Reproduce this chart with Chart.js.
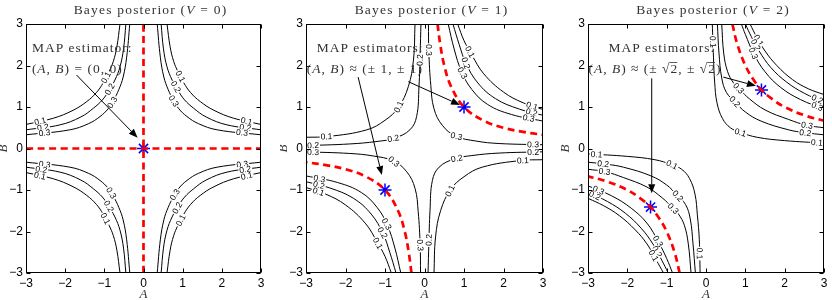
<!DOCTYPE html>
<html>
<head>
<meta charset="utf-8">
<script src="https://cdn.jsdelivr.net/npm/chart.js@4.4.1/dist/chart.umd.min.js"></script>
<style>
  html, body { margin: 0; padding: 0; background: #fff; }
  #wrap { position: relative; width: 832px; height: 300px; overflow: hidden; }
  canvas { position: absolute; top: 0; }
</style>
</head>
<body>
<div id="wrap">
  <canvas id="p0" width="280" height="300" style="left:0px"></canvas>
  <canvas id="p1" width="276" height="300" style="left:280px"></canvas>
  <canvas id="p2" width="276" height="300" style="left:556px"></canvas>
</div>
<script>
// ---- data (A on x, B on y) ----
const axisTicks = [-3, -2, -1, 0, 1, 2, 3];
const panelTitles = ["0", "1", "2"];

// V = 0 : contour level, then points
const v0Lines = [
  ["0.1", [[-3,0.58],[-2.3,0.73],[-1.8,0.92],[-1.45,1.13],[-1.2,1.35],[-1.03,1.58],[-0.88,1.85],[-0.77,2.1],[-0.68,2.45],[-0.6,3]]],
  ["0.2", [[-3,0.45],[-2.13,0.57],[-1.6,0.76],[-1.28,0.97],[-1.05,1.17],[-0.9,1.37],[-0.73,1.65],[-0.6,1.97],[-0.51,2.4],[-0.45,3]]],
  ["0.3", [[-3,0.33],[-1.88,0.45],[-1.4,0.6],[-1.11,0.77],[-0.9,0.96],[-0.77,1.15],[-0.63,1.42],[-0.52,1.72],[-0.43,2.2],[-0.35,3]]],
  ["0.1", [[3,0.58],[2.3,0.73],[1.8,0.92],[1.45,1.13],[1.2,1.35],[1.03,1.58],[0.88,1.85],[0.77,2.1],[0.68,2.45],[0.6,3]]],
  ["0.2", [[3,0.45],[2.13,0.57],[1.6,0.76],[1.28,0.97],[1.05,1.17],[0.9,1.37],[0.73,1.65],[0.6,1.97],[0.51,2.4],[0.45,3]]],
  ["0.3", [[3,0.33],[1.88,0.45],[1.4,0.6],[1.11,0.77],[0.9,0.96],[0.77,1.15],[0.63,1.42],[0.52,1.72],[0.43,2.2],[0.35,3]]],
  ["0.1", [[-3,-0.58],[-2.3,-0.73],[-1.8,-0.92],[-1.45,-1.13],[-1.2,-1.35],[-1.03,-1.58],[-0.88,-1.85],[-0.77,-2.1],[-0.68,-2.45],[-0.6,-3]]],
  ["0.2", [[-3,-0.45],[-2.13,-0.57],[-1.6,-0.76],[-1.28,-0.97],[-1.05,-1.17],[-0.9,-1.37],[-0.73,-1.65],[-0.6,-1.97],[-0.51,-2.4],[-0.45,-3]]],
  ["0.3", [[-3,-0.33],[-1.88,-0.45],[-1.4,-0.6],[-1.11,-0.77],[-0.9,-0.96],[-0.77,-1.15],[-0.63,-1.42],[-0.52,-1.72],[-0.43,-2.2],[-0.35,-3]]],
  ["0.1", [[3,-0.58],[2.3,-0.73],[1.8,-0.92],[1.45,-1.13],[1.2,-1.35],[1.03,-1.58],[0.88,-1.85],[0.77,-2.1],[0.68,-2.45],[0.6,-3]]],
  ["0.2", [[3,-0.45],[2.13,-0.57],[1.6,-0.76],[1.28,-0.97],[1.05,-1.17],[0.9,-1.37],[0.73,-1.65],[0.6,-1.97],[0.51,-2.4],[0.45,-3]]],
  ["0.3", [[3,-0.33],[1.88,-0.45],[1.4,-0.6],[1.11,-0.77],[0.9,-0.96],[0.77,-1.15],[0.63,-1.42],[0.52,-1.72],[0.43,-2.2],[0.35,-3]]]
];
const v0Ridge = [[[-3,0],[3,0]], [[0,-3],[0,3]]];
const v0Map = [[0,0]];
const v0Spots = [[0,-2.64,0.67],[1,-2.56,0.47],[2,-2.52,0.31],[0,-0.98,1.72],[1,-0.86,1.43],[2,-0.73,1.07],
  [3,0.93,1.73],[4,0.76,1.45],[5,0.68,1.09],[3,2.63,0.65],[4,2.59,0.47],[5,2.51,0.33],
  [8,-2.51,-0.29],[7,-2.6,-0.45],[6,-2.64,-0.64],[8,-0.77,-1.04],[7,-0.9,-1.4],[6,-1.03,-1.72],
  [11,0.68,-1.04],[10,0.8,-1.4],[9,0.93,-1.72],[11,2.51,-0.29],[10,2.59,-0.45],[9,2.63,-0.64]];

// V = 1
const v1Lines = [
  ["0.3", [[0.6,3],[0.75,2.4],[0.94,1.85],[1.2,1.42],[1.6,1.06],[2.2,0.82],[3,0.66]]],
  ["0.2", [[0.72,3],[0.88,2.5],[1.05,2.05],[1.35,1.58],[1.8,1.2],[2.4,0.95],[3,0.8]]],
  ["0.1", [[0.84,3],[1.0,2.6],[1.2,2.25],[1.5,1.8],[2.0,1.36],[2.5,1.1],[3,0.94]]],
  ["0.3", [[-3,-0.66],[-2.2,-0.82],[-1.6,-1.06],[-1.2,-1.42],[-0.94,-1.85],[-0.75,-2.4],[-0.6,-3]]],
  ["0.2", [[-3,-0.8],[-2.4,-0.95],[-1.8,-1.2],[-1.35,-1.58],[-1.05,-2.05],[-0.88,-2.5],[-0.72,-3]]],
  ["0.1", [[-3,-0.94],[-2.5,-1.1],[-2.0,-1.36],[-1.5,-1.8],[-1.2,-2.25],[-1.0,-2.6],[-0.84,-3]]],
  ["0.3", [[0.1,3],[0.11,2.33],[0.16,1.52],[0.24,0.96],[0.45,0.56],[0.79,0.3],[1.3,0.18],[1.89,0.12],[3,0.09]]],
  ["0.3", [[-3,-0.08],[-1.89,-0.12],[-1.3,-0.18],[-0.79,-0.3],[-0.45,-0.56],[-0.24,-0.96],[-0.16,-1.52],[-0.11,-2.33],[-0.1,-3]]],
  ["0.1", [[-3,0.27],[-2.43,0.29],[-1.46,0.45],[-1.0,0.68],[-0.66,0.99],[-0.41,1.49],[-0.28,2.13],[-0.24,3]]],
  ["0.2", [[-3,0.07],[-1.89,0.11],[-1.2,0.17],[-0.76,0.25],[-0.37,0.45],[-0.2,0.77],[-0.14,1.49],[-0.11,2.3],[-0.09,3]]],
  ["0.1", [[0.24,-3],[0.28,-2.13],[0.41,-1.49],[0.66,-0.99],[1.0,-0.68],[1.46,-0.45],[2.43,-0.29],[3,-0.27]]],
  ["0.2", [[0.09,-3],[0.11,-2.3],[0.14,-1.49],[0.2,-0.77],[0.37,-0.45],[0.76,-0.25],[1.2,-0.17],[1.89,-0.11],[3,-0.08]]]
];
const v1Ridge = [
  [[0.33,3],[0.4,2.5],[0.5,2],[0.67,1.5],[1,1],[1.5,0.67],[2,0.5],[2.5,0.4],[3,0.33]],
  [[-0.33,-3],[-0.4,-2.5],[-0.5,-2],[-0.67,-1.5],[-1,-1],[-1.5,-0.67],[-2,-0.5],[-2.5,-0.4],[-3,-0.33]]
];
const v1Map = [[1,1],[-1,-1]];
const v1Spots = [[8,-2.48,0.28],[8,-0.66,1.01],[9,-2.82,0.07],[9,-0.79,0.25],[7,-2.82,-0.08],[7,-0.79,-0.33],
  [9,-0.07,2.13],[6,0.08,2.37],
  [2,1.15,2.33],[1,1.03,2.05],[0,0.94,1.81],[2,2.71,0.99],[1,2.71,0.86],[0,2.63,0.71],
  [6,0.82,0.33],[6,2.75,0.11],[11,2.75,-0.08],[10,2.49,-0.28],[11,0.82,-0.24],[10,0.69,-1.04],
  [3,-2.65,-0.68],[4,-2.65,-0.8],[5,-2.65,-0.94],[3,-1.0,-1.84],[4,-1.08,-2.04],[5,-1.17,-2.28],
  [7,-0.11,-2.33],[11,0.06,-2.2]];

// V = 2
const v2Lines = [
  ["0.3", [[0.9,3],[1.0,2.75],[1.21,2.29],[1.5,1.85],[1.9,1.47],[2.4,1.18],[3,0.95]]],
  ["0.2", [[1.0,3],[1.15,2.7],[1.35,2.35],[1.65,1.95],[2.05,1.6],[2.5,1.33],[3,1.12]]],
  ["0.1", [[1.12,3],[1.28,2.7],[1.5,2.35],[1.8,2.0],[2.2,1.66],[2.6,1.44],[3,1.3]]],
  ["0.3", [[0.4,3],[0.45,2.3],[0.55,1.85],[0.7,1.58],[0.86,1.42],[1.1,1.2],[1.5,0.93],[2.1,0.7],[2.56,0.56],[3,0.5]]],
  ["0.2", [[0.29,3],[0.33,2.3],[0.4,1.7],[0.52,1.35],[0.74,1.12],[1.0,0.88],[1.4,0.66],[2.1,0.45],[2.52,0.38],[3,0.33]]],
  ["0.1", [[0.16,3],[0.19,2.2],[0.22,1.6],[0.28,1.1],[0.42,0.72],[0.62,0.5],[0.87,0.39],[1.3,0.27],[2,0.19],[3,0.13]]],
  ["0.3", [[-3,-0.9],[-2.4,-1.14],[-1.9,-1.44],[-1.5,-1.8],[-1.21,-2.25],[-1.0,-2.65],[-0.85,-3]]],
  ["0.2", [[-3,-1.05],[-2.5,-1.28],[-2.05,-1.56],[-1.65,-1.92],[-1.35,-2.3],[-1.12,-2.7],[-0.96,-3]]],
  ["0.1", [[-3,-1.2],[-2.6,-1.38],[-2.2,-1.62],[-1.8,-1.96],[-1.5,-2.3],[-1.27,-2.68],[-1.08,-3]]],
  ["0.3", [[-3,-0.5],[-2.56,-0.56],[-2.1,-0.7],[-1.5,-0.93],[-1.1,-1.2],[-0.86,-1.42],[-0.7,-1.58],[-0.55,-1.85],[-0.45,-2.3],[-0.38,-3]]],
  ["0.2", [[-3,-0.33],[-2.52,-0.38],[-2.1,-0.45],[-1.4,-0.66],[-1.0,-0.88],[-0.74,-1.12],[-0.52,-1.35],[-0.4,-1.7],[-0.33,-2.3],[-0.27,-3]]],
  ["0.1", [[-3,-0.13],[-2,-0.19],[-1.3,-0.27],[-0.87,-0.39],[-0.62,-0.5],[-0.42,-0.72],[-0.28,-1.1],[-0.22,-1.6],[-0.17,-2.2],[-0.15,-3]]]
];
const v2Ridge = [
  [[0.67,3],[0.8,2.5],[1,2],[1.2,1.67],[1.41,1.41],[1.67,1.2],[2,1],[2.5,0.8],[3,0.67]],
  [[-0.67,-3],[-0.8,-2.5],[-1,-2],[-1.2,-1.67],[-1.41,-1.41],[-1.67,-1.2],[-2,-1],[-2.5,-0.8],[-3,-0.67]]
];
const v2Map = [[1.41,1.41],[-1.41,-1.41]];
const v2Spots = [[5,0.13,2.57],[2,1.33,2.6],[1,1.21,2.47],[0,1.19,2.29],[1,2.82,1.17],[0,2.82,1.0],
  [3,0.85,1.47],[4,0.74,1.13],[5,0.87,0.37],[3,2.56,0.5],[4,2.52,0.34],[5,2.82,0.13],
  [11,-2.78,-0.13],[10,-2.61,-0.32],[9,-2.57,-0.48],[11,-0.87,-0.4],[10,-0.74,-1.16],[9,-0.87,-1.48],[11,-0.15,-2.53],
  [6,-2.74,-1.02],[7,-2.82,-1.12],[6,-1.3,-2.28],[7,-1.25,-2.49],[8,-1.38,-2.61]];

// ---- helpers ----
const SERIF = '"Liberation Serif", "Times New Roman", serif';
const SANS = '"Liberation Sans", Arial, sans-serif';
const TXT = '#333';

function fmtTick(v) {
  return v < 0 ? '\u2212' + Math.abs(v) : String(v);
}

// segs: [text, style] style 0 normal, 1 italic, 2 normal with overline (radicand)
function richWidth(ctx, segs, size) {
  let w = 0;
  segs.forEach(([t, s]) => {
    ctx.font = (s === 1 ? 'italic ' : '') + size + 'px ' + SERIF;
    w += ctx.measureText(t).width;
  });
  return w;
}
function drawRich(ctx, segs, x, y, size) {
  let cx = x;
  segs.forEach(([t, s]) => {
    ctx.font = (s === 1 ? 'italic ' : '') + size + 'px ' + SERIF;
    const w = ctx.measureText(t).width;
    ctx.fillText(t, cx, y);
    if (s === 2) ctx.fillRect(cx - 1, y - size * 0.8, w, 0.8);
    cx += w;
  });
}

function arrow(ctx, x1, y1, x2, y2) {
  const ang = Math.atan2(y2 - y1, x2 - x1), L = 9, H = 3.5;
  const c = Math.cos(ang), s = Math.sin(ang);
  ctx.beginPath();
  ctx.moveTo(x1, y1);
  ctx.lineTo(x2 - L * c, y2 - L * s);
  ctx.stroke();
  ctx.beginPath();
  ctx.moveTo(x2, y2);
  ctx.lineTo(x2 - L * c + H * s, y2 - L * s - H * c);
  ctx.lineTo(x2 - L * c - H * s, y2 - L * s + H * c);
  ctx.closePath();
  ctx.fill();
}

function makePanel(id, cfg) {
  const el = document.getElementById(id);
  const W = el.width;

  const datasets = [];
  cfg.ridge.forEach(r => datasets.push({
    data: r, showLine: true, borderColor: '#ff0000', borderWidth: 2.7,
    borderDash: [7, 4.5], pointRadius: 0, tension: 0.4
  }));
  datasets.push({
    data: cfg.map, showLine: false, pointStyle: 'star', pointRadius: 6.5,
    borderColor: '#0000ff', backgroundColor: '#0000ff', pointBorderWidth: 1.5
  });
  cfg.lines.forEach(l => datasets.push({
    data: l[1], showLine: true, borderColor: '#000', borderWidth: 1,
    pointRadius: 0, tension: 0.4
  }));

  const deco = {
    id: 'deco',
    afterDatasetsDraw(chart) {
      const { ctx, chartArea: a, scales: { x, y } } = chart;
      ctx.save();
      ctx.beginPath();
      ctx.rect(a.left, a.top, a.width, a.height);
      ctx.clip();
      ctx.font = '8.5px ' + SANS;
      ctx.textAlign = 'center';
      ctx.textBaseline = 'middle';
      cfg.spots.forEach(([i, A, B]) => {
        const pts = cfg.lines[i][1].map(p => [x.getPixelForValue(p[0]), y.getPixelForValue(p[1])]);
        const px = x.getPixelForValue(A), py = y.getPixelForValue(B);
        let best = null;
        for (let k = 0; k < pts.length - 1; k++) {
          const [x1, y1] = pts[k], [x2, y2] = pts[k + 1];
          const dx = x2 - x1, dy = y2 - y1;
          let t = ((px - x1) * dx + (py - y1) * dy) / (dx * dx + dy * dy);
          t = Math.max(0, Math.min(1, t));
          const qx = x1 + t * dx, qy = y1 + t * dy;
          const d = (qx - px) ** 2 + (qy - py) ** 2;
          if (!best || d < best.d) best = { d, qx, qy, ang: Math.atan2(dy, dx) };
        }
        let ang = best.ang;
        if (ang > Math.PI / 2) ang -= Math.PI;
        if (ang < -Math.PI / 2) ang += Math.PI;
        const t = cfg.lines[i][0];
        const w = ctx.measureText(t).width;
        ctx.save();
        ctx.translate(best.qx, best.qy);
        ctx.rotate(ang);
        ctx.fillStyle = '#fff';
        ctx.fillRect(-w / 2 - 1, -3.5, w + 2, 7);
        ctx.fillStyle = '#000';
        ctx.fillText(t, 0, 0.5);
        ctx.restore();
      });
      ctx.restore();
    },
    afterDraw(chart) {
      const { ctx, chartArea: a, scales: { x, y } } = chart;
      ctx.save();
      // box and inward ticks
      ctx.strokeStyle = '#000';
      ctx.lineWidth = 1;
      const L = Math.round(a.left) + 0.5, T = Math.round(a.top) + 0.5;
      const R = Math.round(a.right) - 0.5, Bm = Math.round(a.bottom) - 0.5;
      ctx.strokeRect(L, T, R - L, Bm - T);
      ctx.beginPath();
      axisTicks.forEach(v => {
        const px = Math.round(x.getPixelForValue(v)) + 0.5;
        ctx.moveTo(px, Bm); ctx.lineTo(px, Bm - 4);
        ctx.moveTo(px, T); ctx.lineTo(px, T + 4);
        const py = Math.round(y.getPixelForValue(v)) + 0.5;
        ctx.moveTo(L, py); ctx.lineTo(L + 4, py);
        ctx.moveTo(R, py); ctx.lineTo(R - 4, py);
      });
      ctx.stroke();

      // arrows
      ctx.fillStyle = '#000';
      cfg.arrows.forEach(([a1, b1, a2, b2]) => {
        arrow(ctx, x.getPixelForValue(a1), y.getPixelForValue(b1), x.getPixelForValue(a2), y.getPixelForValue(b2));
      });

      // annotation text
      ctx.letterSpacing = '1px';
      ctx.fillStyle = TXT;
      ctx.textAlign = 'left';
      ctx.textBaseline = 'alphabetic';
      cfg.notes.forEach(n => drawRich(ctx, n.segs, x.getPixelForValue(n.a), y.getPixelForValue(n.b), 13.5));

      // title
      ctx.letterSpacing = '1.2px';
      const tsegs = [['Bayes posterior (', 0], ['V', 1], [' = ' + cfg.title + ')', 0]];
      const tw = richWidth(ctx, tsegs, 13.5);
      ctx.textBaseline = 'middle';
      drawRich(ctx, tsegs, (a.left + a.right) / 2 + 7 - tw / 2, 10, 13.5);

      // axis names
      ctx.letterSpacing = '0px';
      ctx.textAlign = 'center';
      ctx.font = 'italic 13px ' + SERIF;
      ctx.fillText('A', (a.left + a.right) / 2, 295);
      ctx.translate(a.left - 22, (a.top + a.bottom) / 2);
      ctx.rotate(-Math.PI / 2);
      ctx.fillText('B', 0, 0);
      ctx.restore();
    }
  };

  const tickFont = { family: SANS, size: 12 };
  return new Chart(el, {
    type: 'scatter',
    data: { datasets },
    options: {
      responsive: false,
      animation: false,
      events: [],
      layout: { padding: { left: 0, right: W - cfg.right, top: 24, bottom: 0 } },
      plugins: { legend: { display: false }, tooltip: { enabled: false } },
      scales: {
        x: {
          type: 'linear', min: -3, max: 3,
          afterFit: s => { s.height = 27; },
          ticks: { stepSize: 1, padding: 3, color: '#000', font: tickFont, maxRotation: 0, autoSkip: false, callback: fmtTick },
          grid: { display: false, drawTicks: false },
          border: { display: false }
        },
        y: {
          type: 'linear', min: -3, max: 3,
          afterFit: s => { s.width = cfg.left; },
          ticks: { stepSize: 1, padding: 3, color: '#000', font: tickFont, autoSkip: false, callback: fmtTick },
          grid: { display: false, drawTicks: false },
          border: { display: false }
        }
      }
    },
    plugins: [deco]
  });
}

const AB = [['(', 0], ['A', 1], [', ', 0], ['B', 1], [')', 0]];

makePanel('p0', {
  title: panelTitles[0], left: 26, right: 261,
  lines: v0Lines, ridge: v0Ridge, map: v0Map, spots: v0Spots,
  arrows: [[-1.71, 1.77, -0.15, 0.26]],
  notes: [
    { a: -2.85, b: 2.33, segs: [['MAP estimator:', 0]] },
    { a: -2.85, b: 1.82, segs: AB.concat([[' = (0, 0)', 0]]) }
  ]
});
makePanel('p1', {
  title: panelTitles[1], left: 26, right: 263,
  lines: v1Lines, ridge: v1Ridge, map: v1Map, spots: v1Spots,
  arrows: [[-0.41, 1.61, 0.9, 1.05], [-1.68, 1.72, -1.08, -0.64]],
  notes: [
    { a: -2.73, b: 2.33, segs: [['MAP estimators:', 0]] },
    { a: -2.98, b: 1.82, segs: AB.concat([[' \u2248 (\u00b1 1, \u00b1 1)', 0]]) }
  ]
});
makePanel('p2', {
  title: panelTitles[2], left: 32, right: 268,
  lines: v2Lines, ridge: v2Ridge, map: v2Map, spots: v2Spots,
  arrows: [[0.44, 1.72, 1.27, 1.51], [-1.38, 1.69, -1.38, -1.08]],
  notes: [
    { a: -2.48, b: 2.33, segs: [['MAP estimators:', 0]] },
    { a: -2.99, b: 1.82, segs: AB.concat([[' \u2248 (\u00b1 \u221a', 0], ['2', 2], [', \u00b1 \u221a', 0], ['2', 2], [')', 0]]) }
  ]
});
</script>
</body>
</html>
